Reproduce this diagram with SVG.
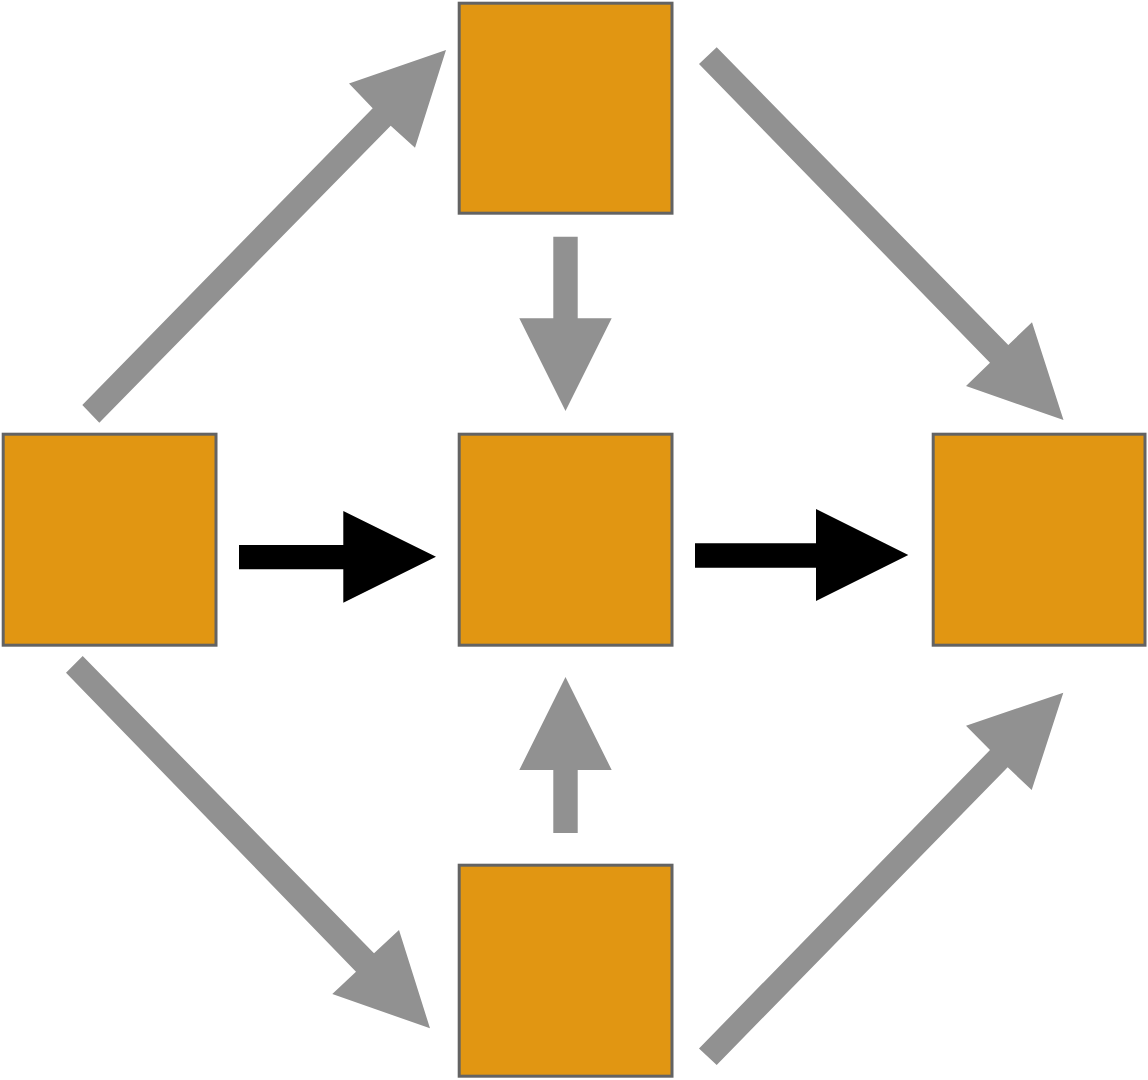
<svg xmlns="http://www.w3.org/2000/svg" width="1148" height="1080" viewBox="0 0 1148 1080">
<style>
.box{fill:#E19612;stroke:#636363;stroke-width:3}
.g{fill:#919191}
.k{fill:#000000}
</style>
<rect x="0" y="0" width="1148" height="1080" fill="#ffffff"/>
<g id="connectors">
<polygon class="g" points="82.3,405 372.7,108.3 349,83.5 446,50 415,147.7 390.7,125.7 99.3,422.7"/>
<polygon class="g" points="699,64 716.7,47.3 1008.3,345 1032,322.3 1063.5,420 966,386 990,362.7"/>
<polygon class="g" points="66,672.7 82.7,656 374,953.3 399,930 430,1028.3 332.3,994 356,971.7"/>
<polygon class="g" points="699,1048.5 990,750 966,725.7 1063.3,692.7 1031.7,790 1007.7,767.3 716.7,1065"/>
<polygon class="g" points="553.3,236.7 577.7,236.7 577.7,318.3 611.7,318.3 565.5,411 519.3,318.3 553.3,318.3"/>
<polygon class="g" points="553.3,833 577.7,833 577.7,770 611.7,770 565.5,677 519.3,770 553.3,770"/>
<polygon class="k" points="239,545 343.3,545 343.3,511 436,556.7 343.3,602.7 343.3,569.3 239,569.3"/>
<polygon class="k" points="695,543.3 816,543.3 816,509 908.3,555 816,601 816,567.7 695,567.7"/>
</g>
<g id="node-left"><rect class="box" x="3.2" y="434.2" width="212.8" height="211"/></g>
<g id="node-top"><rect class="box" x="459.2" y="3.2" width="212.8" height="210"/></g>
<g id="node-center"><rect class="box" x="459.2" y="434.2" width="212.8" height="211"/></g>
<g id="node-right"><rect class="box" x="933.2" y="434.2" width="211.8" height="211"/></g>
<g id="node-bottom"><rect class="box" x="459.2" y="865.2" width="212.8" height="211"/></g>
</svg>
